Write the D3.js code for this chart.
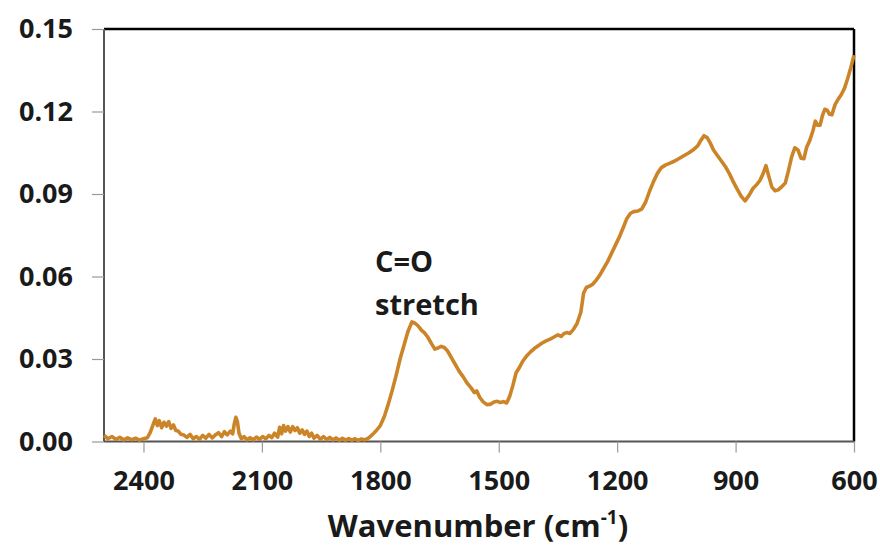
<!DOCTYPE html>
<html>
<head>
<meta charset="utf-8">
<script src="https://cdn.jsdelivr.net/npm/d3@7/dist/d3.min.js"></script>
<style>
  html, body { margin: 0; padding: 0; background: #fff; }
  svg { display: block; }
  text { font-family: "Open Sans", "DejaVu Sans", sans-serif; font-weight: bold; fill: #1a1a1a; }
</style>
</head>
<body>
<svg id="chart" width="880" height="549"></svg>
<script>
// Wavenumber (cm-1), descending
const wavenumbers = [
  2500,2490,2480,2470,2460,2450,2440,2430,2420,2410,2400,2390,2383,2376,2370,2365,2360,2354,2348,2342,
  2336,2330,2324,2318,2312,2305,2298,2290,2282,2274,2266,2258,2250,2242,2234,2226,2218,2210,2202,2195,
  2188,2180,2174,2170,2166,2162,2158,2152,2145,2138,2130,2122,2114,2106,2098,2090,2082,2075,2068,2060,
  2055,2050,2045,2040,2034,2028,2022,2016,2010,2004,1998,1992,1986,1980,1974,1968,1960,1952,1944,1936,
  1928,1920,1912,1904,1896,1888,1880,1872,1864,1856,1848,1840,1830,1820,1810,1800,1790,1780,1770,1760,
  1750,1740,1730,1720,1712,1704,1696,1688,1680,1670,1662,1654,1646,1638,1630,1620,1610,1600,1590,1580,
  1570,1562,1556,1548,1540,1530,1520,1512,1504,1496,1488,1480,1472,1464,1456,1448,1440,1430,1420,1410,
  1400,1390,1380,1370,1360,1350,1342,1335,1328,1320,1312,1302,1292,1285,1278,1270,1262,1254,1244,1234,
  1224,1214,1204,1194,1184,1175,1166,1158,1148,1138,1128,1118,1108,1098,1088,1078,1066,1054,1042,1030,
  1018,1006,996,988,980,972,964,956,946,936,926,916,906,896,886,876,866,856,846,838,
  830,823,816,808,800,792,782,774,766,758,750,742,734,727,720,712,704,698,692,686,
  680,674,668,662,656,648,640,632,624,616,608,600
];
// Absorbance
const absorbance = [
  0.0022,0.0010,0.0018,0.0008,0.0015,0.0006,0.0013,0.0007,0.0012,0.0005,0.0010,0.0014,0.0032,0.0060,0.0082,0.0058,0.0076,0.0050,0.0070,0.0056,
  0.0072,0.0048,0.0060,0.0040,0.0038,0.0026,0.0024,0.0015,0.0026,0.0010,0.0018,0.0008,0.0022,0.0012,0.0026,0.0013,0.0024,0.0032,0.0018,0.0036,
  0.0024,0.0038,0.0028,0.0064,0.0088,0.0072,0.0030,0.0010,0.0018,0.0006,0.0014,0.0006,0.0016,0.0008,0.0018,0.0010,0.0022,0.0014,0.0030,0.0016,
  0.0052,0.0028,0.0058,0.0038,0.0054,0.0034,0.0054,0.0040,0.0050,0.0030,0.0042,0.0026,0.0038,0.0018,0.0030,0.0012,0.0022,0.0008,0.0018,0.0007,
  0.0015,0.0006,0.0013,0.0005,0.0012,0.0005,0.0011,0.0005,0.0010,0.0004,0.0009,0.0006,0.0012,0.0025,0.0040,0.0058,0.0090,0.0135,0.0185,0.0240,
  0.0300,0.0350,0.0400,0.0435,0.0430,0.0420,0.0405,0.0395,0.0380,0.0355,0.0336,0.0340,0.0346,0.0342,0.0330,0.0305,0.0280,0.0255,0.0235,0.0212,
  0.0195,0.0178,0.0184,0.0160,0.0145,0.0134,0.0136,0.0144,0.0146,0.0142,0.0145,0.0140,0.0165,0.0205,0.0250,0.0268,0.0290,0.0310,0.0325,0.0338,
  0.0348,0.0358,0.0366,0.0372,0.0380,0.0388,0.0382,0.0392,0.0396,0.0393,0.0405,0.0428,0.0470,0.0540,0.0560,0.0565,0.0572,0.0585,0.0605,0.0630,
  0.0655,0.0685,0.0715,0.0745,0.0780,0.0812,0.0830,0.0836,0.0838,0.0845,0.0870,0.0910,0.0945,0.0975,0.0996,0.1005,0.1012,0.1020,0.1030,0.1040,
  0.1050,0.1062,0.1075,0.1095,0.1112,0.1105,0.1085,0.1060,0.1040,0.1020,0.1000,0.0975,0.0945,0.0918,0.0892,0.0875,0.0895,0.0920,0.0935,0.0950,
  0.0975,0.1003,0.0965,0.0925,0.0912,0.0915,0.0928,0.0940,0.0985,0.1035,0.1068,0.1060,0.1030,0.1028,0.1070,0.1095,0.1130,0.1165,0.1150,0.1150,
  0.1185,0.1208,0.1205,0.1190,0.1188,0.1225,0.1245,0.1262,0.1285,0.1320,0.1360,0.1405
];
const xTicks = [2400, 2100, 1800, 1500, 1200, 900, 600];
const yTicks = [0.00, 0.03, 0.06, 0.09, 0.12, 0.15];
const annotationLines = ["C=O", "stretch"];

const margin = { top: 29, right: 26, bottom: 107.5, left: 104 };
const W = 880, H = 549;
const iw = W - margin.left - margin.right;
const ih = H - margin.top - margin.bottom;

const svg = d3.select("#chart");
const g = svg.append("g").attr("transform", `translate(${margin.left},${margin.top})`);

const x = d3.scaleLinear().domain([2500, 600]).range([0, iw]);
const y = d3.scaleLinear().domain([0, 0.15]).range([ih, 0]);

// plot frame (top & right black)
g.append("line").attr("x1", 0).attr("x2", iw).attr("y1", 0).attr("y2", 0)
  .attr("stroke", "#000").attr("stroke-width", 2.5);
g.append("line").attr("x1", iw).attr("x2", iw).attr("y1", 0).attr("y2", ih)
  .attr("stroke", "#000").attr("stroke-width", 2.5);

// axes
const xAxis = g.append("g").attr("transform", `translate(0,${ih})`)
  .call(d3.axisBottom(x).tickValues(xTicks).tickFormat(d3.format("d")).tickSize(11).tickPadding(18));
const yAxis = g.append("g")
  .call(d3.axisLeft(y).tickValues(yTicks).tickFormat(d3.format(".2f")).tickSize(12).tickPadding(19));

[xAxis, yAxis].forEach(a => {
  a.select(".domain").attr("stroke", "#555").attr("stroke-width", 2);
  a.selectAll(".tick line").attr("stroke", "#999").attr("stroke-width", 1.2);
  a.selectAll(".tick text").attr("font-size", 27).attr("font-family", '"Open Sans", sans-serif')
    .attr("font-weight", "bold").attr("fill", "#1a1a1a");
});
xAxis.select(".domain").attr("d", `M0,0H${iw}`);
yAxis.select(".domain").attr("d", `M0,${ih}V0`);

// spectrum
const data = wavenumbers.map((w, i) => [w, absorbance[i]]);
g.append("path").datum(data)
  .attr("fill", "none")
  .attr("stroke", "#CC8428")
  .attr("stroke-width", 3.6)
  .attr("stroke-linejoin", "round")
  .attr("d", d3.line().x(d => x(d[0])).y(d => y(d[1])));

// annotation
const ann = svg.append("text").attr("x", 375).attr("y", 272).attr("font-size", 29);
annotationLines.forEach((t, i) => {
  ann.append("tspan").attr("x", 375).attr("dy", i === 0 ? 0 : 43).text(t);
});

// x title
const title = svg.append("text").attr("x", 478).attr("y", 537)
  .attr("text-anchor", "middle").attr("font-size", 31);
title.append("tspan").text("Wavenumber (cm");
title.append("tspan").attr("font-size", 19).attr("dy", -13).text("-1");
title.append("tspan").attr("dy", 13).text(")");
</script>
</body>
</html>
